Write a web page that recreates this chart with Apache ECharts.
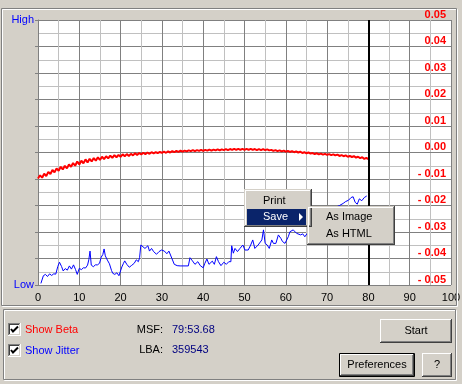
<!DOCTYPE html>
<html><head><meta charset="utf-8">
<script src="https://cdn.jsdelivr.net/npm/echarts@6/dist/echarts.min.js"></script>
<style>html,body{margin:0;padding:0;background:#d4d0c8}#c{width:462px;height:384px}</style>
</head><body><div id="c"></div>
<script>
// ---------- data ----------
const xMin = 0, xMax = 100, xLabelStep = 10, xGridStep = 5;
const betaMin = -0.05, betaMax = 0.05, betaLabelStep = 0.01, betaGridStep = 0.005;
const jitterLabels = { 0: 'Low', 100: 'High' };
const currentPosition = 80;
const betaStep = 0.5; // sample spacing of the beta trace along x
const betaValues = [
 -0.0098,-0.0086,-0.0095,-0.0080,-0.0089,-0.0073,-0.0081,-0.0066,-0.0075,-0.0060,
 -0.0069,-0.0054,-0.0064,-0.0050,-0.0060,-0.0045,-0.0054,-0.0040,-0.0050,-0.0034,
 -0.0045,-0.0031,-0.0041,-0.0026,-0.0038,-0.0024,-0.0034,-0.0021,-0.0031,-0.0018,
 -0.0028,-0.0016,-0.0025,-0.0014,-0.0022,-0.0012,-0.0020,-0.0010,-0.0018,-0.0009,
 -0.0016,-0.0007,-0.0014,-0.0006,-0.0013,-0.0005,-0.0011,-0.0003,-0.0009,-0.0002,
 -0.0007,-0.0001,-0.0006,0.0000,-0.0005,0.0001,-0.0003,0.0001,-0.0002,0.0002,
 -0.0001,0.0003,-0.0001,0.0004,0.0000,0.0005,0.0001,0.0006,0.0002,0.0007,
 0.0003,0.0007,0.0004,0.0008,0.0005,0.0009,0.0005,0.0009,0.0006,0.0010,
 0.0006,0.0010,0.0007,0.0011,0.0007,0.0011,0.0008,0.0012,0.0008,0.0012,
 0.0009,0.0013,0.0009,0.0013,0.0010,0.0014,0.0010,0.0014,0.0010,0.0014,
 0.0010,0.0014,0.0010,0.0014,0.0010,0.0013,0.0009,0.0013,0.0009,0.0013,
 0.0009,0.0012,0.0008,0.0010,0.0006,0.0009,0.0005,0.0008,0.0004,0.0007,
 0.0003,0.0006,0.0002,0.0005,0.0001,0.0004,0.0000,0.0003,-0.0002,0.0001,
 -0.0003,0.0000,-0.0004,-0.0002,-0.0006,-0.0003,-0.0007,-0.0004,-0.0008,-0.0005,
 -0.0009,-0.0006,-0.0010,-0.0007,-0.0011,-0.0008,-0.0013,-0.0010,-0.0014,-0.0011,
 -0.0016,-0.0013,-0.0017,-0.0014,-0.0019,-0.0016,-0.0021,-0.0018,-0.0024,-0.0020,
 -0.0025
];
const jitterX = [
 0.7,1.3,1.8,2.3,2.8,3.3,3.8,4.3,4.8,5.2,5.7,6.1,6.6,7.1,7.6,8.1,8.6,9.1,9.5,10.0,
 10.5,11.0,11.5,12.0,12.3,12.6,12.9,13.4,13.9,14.4,14.9,15.3,15.7,16.0,16.3,16.8,17.3,17.8,18.1,18.6,
 19.1,19.6,19.9,20.3,20.7,21.0,21.5,22.1,22.6,23.3,23.8,24.3,24.6,24.9,25.3,25.9,26.6,27.0,27.5,28.0,
 28.7,29.3,29.9,30.6,31.2,31.7,32.4,33.0,33.7,34.1,34.4,36.4,36.8,37.4,38.0,38.7,39.3,40.0,40.4,40.9,
 41.4,42.2,42.7,43.2,43.7,44.3,45.0,45.6,46.2,46.7,46.9,47.3,47.7,48.3,48.9,49.6,50.1,50.9,51.5,52.0,
 52.5,53.3,54.2,54.6,55.0,55.5,56.0,56.6,57.0,57.6,58.2,58.8,59.2,59.8,60.2,60.6,61.0,61.4,61.8,62.2,
 62.6,63.0,63.6,64.1,64.6,65.2,65.8,66.4,67.0,67.6,68.2,68.8,69.4,70.0,70.6,71.2,71.8,72.3,73.0,73.9,
 74.5,75.2,75.8,76.3,76.8,77.3,77.8,78.4,79.0,79.6
];
const jitterY = [
 0.6,3.5,4.0,3.2,4.2,3.6,4.2,4.1,7.0,8.6,7.0,5.3,6.2,5.6,7.2,6.0,7.6,5.8,4.0,6.3,
 5.8,6.5,6.4,7.5,9.5,12.8,7.5,6.9,7.6,7.6,8.2,10.5,11.5,13.6,11.0,9.4,8.0,5.5,4.4,4.0,
 4.6,3.5,2.8,6.8,8.2,9.1,7.8,6.7,7.3,8.2,9.5,8.8,10.3,15.1,14.5,13.8,14.8,12.8,13.8,12.6,
 11.6,12.6,13.2,12.8,11.8,12.8,10.1,7.8,7.3,7.8,7.2,7.2,10.3,9.1,7.8,8.8,7.3,6.5,8.2,9.8,
 7.8,9.0,7.8,10.7,8.8,7.3,8.6,7.8,8.8,8.8,14.8,12.0,13.8,12.6,13.8,15.1,13.2,13.2,15.1,17.0,
 13.8,15.1,17.0,20.8,15.7,15.1,13.8,17.0,15.7,15.7,18.9,17.6,16.4,15.7,15.1,18.2,20.1,19.5,20.8,20.1,
 19.5,20.1,18.9,19.3,18.2,19.5,21.5,20.5,23.0,22.0,24.5,23.5,25.5,24.8,26.5,27.0,28.5,29.5,30.0,30.8,
 31.5,32.0,33.0,33.3,31.2,30.5,32.5,31.8,33.0,33.6
];
const msfText = '79:53.68';
const lbaText = '359543';

// ---------- build ----------
const betaData = betaValues.map((v, i) => [i * betaStep, v]);
const jitterData = jitterX.map((x, i) => [x, jitterY[i]]);

const FONT = 'Liberation Sans, Arial, sans-serif';
const G = [];
function hline(x1, x2, y, c) { G.push({type:'line', silent:true, shape:{x1:x1, y1:y+0.5, x2:x2, y2:y+0.5}, style:{stroke:c, lineWidth:1}, z:100}); }
function vline(x, y1, y2, c) { G.push({type:'line', silent:true, shape:{x1:x+0.5, y1:y1, x2:x+0.5, y2:y2}, style:{stroke:c, lineWidth:1}, z:100}); }
function bevel(x, y, w, h, fill, tl1, br1, tl2, br2) {
  G.push({type:'rect', silent:true, shape:{x:x, y:y, width:w, height:h}, style:{fill:fill}, z:99});
  hline(x, x + w - 1, y, tl1); vline(x, y, y + h - 1, tl1);
  hline(x, x + w, y + h - 1, br1); vline(x + w - 1, y, y + h, br1);
  hline(x + 1, x + w - 2, y + 1, tl2); vline(x + 1, y + 1, y + h - 2, tl2);
  hline(x + 1, x + w - 1, y + h - 2, br2); vline(x + w - 2, y + 1, y + h - 1, br2);
}
function etched(x, y, w, h) {
  G.push({type:'rect', silent:true, shape:{x:x+1.5, y:y+1.5, width:w, height:h}, style:{fill:null, stroke:'#ffffff', lineWidth:1}, z:1});
  G.push({type:'rect', silent:true, shape:{x:x+0.5, y:y+0.5, width:w, height:h}, style:{fill:null, stroke:'#808080', lineWidth:1}, z:1});
}
function text(t, x, y, color, opts) {
  G.push(Object.assign({type:'text', silent:true, x:x, y:y, z:110,
    style:Object.assign({text:t, fill:color, font:'11px ' + FONT, textVerticalAlign:'middle', textAlign:'left'}, opts || {})}));
}
const raised = (x, y, w, h) => bevel(x, y, w, h, '#d4d0c8', '#ffffff', '#404040', '#d4d0c8', '#808080');
const menuBox = (x, y, w, h) => bevel(x, y, w, h, '#d4d0c8', '#d4d0c8', '#404040', '#ffffff', '#808080');
const sunken = (x, y, w, h) => bevel(x, y, w, h, '#ffffff', '#808080', '#ffffff', '#404040', '#d4d0c8');

// frames
etched(1, 8, 455, 297);
etched(3, 309, 452, 70);

// context menu
menuBox(244, 189, 68, 38);
text('Print', 263, 200.5, '#000000');
G.push({type:'rect', silent:true, shape:{x:247, y:209, width:59, height:16}, style:{fill:'#0a246a'}, z:105});
text('Save', 263, 217, '#ffffff');
G.push({type:'polygon', silent:true, shape:{points:[[299,213],[303,217],[299,221]]}, style:{fill:'#ffffff'}, z:106});
menuBox(307, 206, 88, 39);
text('As Image', 326, 217, '#000000');
text('As HTML', 326, 234, '#000000');

// checkboxes
function checkbox(x, y) {
  sunken(x, y, 13, 13);
  G.push({type:'polyline', silent:true, shape:{points:[[x+3,y+6],[x+5,y+8.5],[x+10,y+3.5]]}, style:{stroke:'#000', lineWidth:2, fill:null}, z:110});
}
checkbox(8, 323); text('Show Beta', 25, 329.5, '#ff0000');
checkbox(8, 344); text('Show Jitter', 25, 350.5, '#0000ff');
text('MSF:', 163, 329.5, '#000000', {textAlign:'right'});
text(msfText, 172, 329.5, '#000080');
text('LBA:', 163, 349.5, '#000000', {textAlign:'right'});
text(lbaText, 172, 349.5, '#000080');

// buttons
raised(380, 319, 72, 24); text('Start', 416, 331, '#000000', {textAlign:'center'});
G.push({type:'rect', silent:true, shape:{x:339.5, y:353.5, width:75, height:23}, style:{fill:null, stroke:'#000', lineWidth:1}, z:101});
raised(340, 354, 74, 22); text('Preferences', 377, 365, '#000000', {textAlign:'center'});
raised(422, 353, 30, 24); text('?', 437, 365, '#000000', {textAlign:'center'});

const isMultiple = (v, step) => Math.abs(v / step - Math.round(v / step)) < 1e-6;
const GRID_COLORS = ['#808080', '#c0c0c0']; // major, minor in turn

const chart = echarts.init(document.getElementById('c'), null, {renderer:'canvas'});
chart.setOption({
  animation: false,
  backgroundColor: '#d4d0c8',
  grid: { left: 38, top: 20, right: 11, bottom: 99, show: true, backgroundColor: '#ffffff', borderWidth: 0, outerBoundsMode: 'none' },
  xAxis: {
    type: 'value', min: xMin, max: xMax, interval: xGridStep,
    axisLine: { show: true, lineStyle: { color: '#808080' } },
    axisTick: { show: false },
    axisLabel: { color: '#000', fontSize: 11, fontFamily: FONT, margin: 7,
      formatter: v => isMultiple(v, xLabelStep) ? String(Math.round(v)) : '' },
    splitLine: { show: true, lineStyle: { color: GRID_COLORS, width: 1 } }
  },
  yAxis: [
    {
      type: 'value', position: 'right', min: betaMin, max: betaMax, interval: betaGridStep,
      axisLine: { show: true, lineStyle: { color: '#808080' } },
      axisTick: { show: false },
      axisLabel: {
        inside: true, margin: 5, color: '#ff0000', fontWeight: 'bold', fontSize: 11, fontFamily: FONT,
        verticalAlign: 'bottom',
        formatter: v => {
          if (!isMultiple(v, betaLabelStep)) return '';
          const r = Math.round(v * 100) / 100;
          return r < 0 ? '- ' + Math.abs(r).toFixed(2) : r.toFixed(2);
        }
      },
      splitLine: { show: true, lineStyle: { color: GRID_COLORS, width: 1 } }
    },
    {
      type: 'value', position: 'left', min: 0, max: 100, interval: 10,
      axisLine: { show: false },
      axisTick: { show: true, length: 3, lineStyle: { color: '#808080' } },
      axisLabel: { color: '#0000ff', fontSize: 11, fontFamily: FONT, margin: 4,
        formatter: v => jitterLabels[Math.round(v)] || '' },
      splitLine: { show: false }
    }
  ],
  series: [
    {
      name: 'Jitter', type: 'line', yAxisIndex: 1, data: jitterData,
      showSymbol: false, lineStyle: { color: '#0000ff', width: 1 }, z: 3
    },
    {
      name: 'Beta', type: 'line', yAxisIndex: 0, data: betaData,
      showSymbol: false, lineStyle: { color: '#ff0000', width: 2 }, z: 4,
      markLine: { silent: true, symbol: ['none', 'none'], label: { show: false },
        lineStyle: { color: '#000000', width: 2, type: 'solid' },
        data: [{ xAxis: currentPosition }] }
    }
  ],
  graphic: { elements: G }
});
</script></body></html>
